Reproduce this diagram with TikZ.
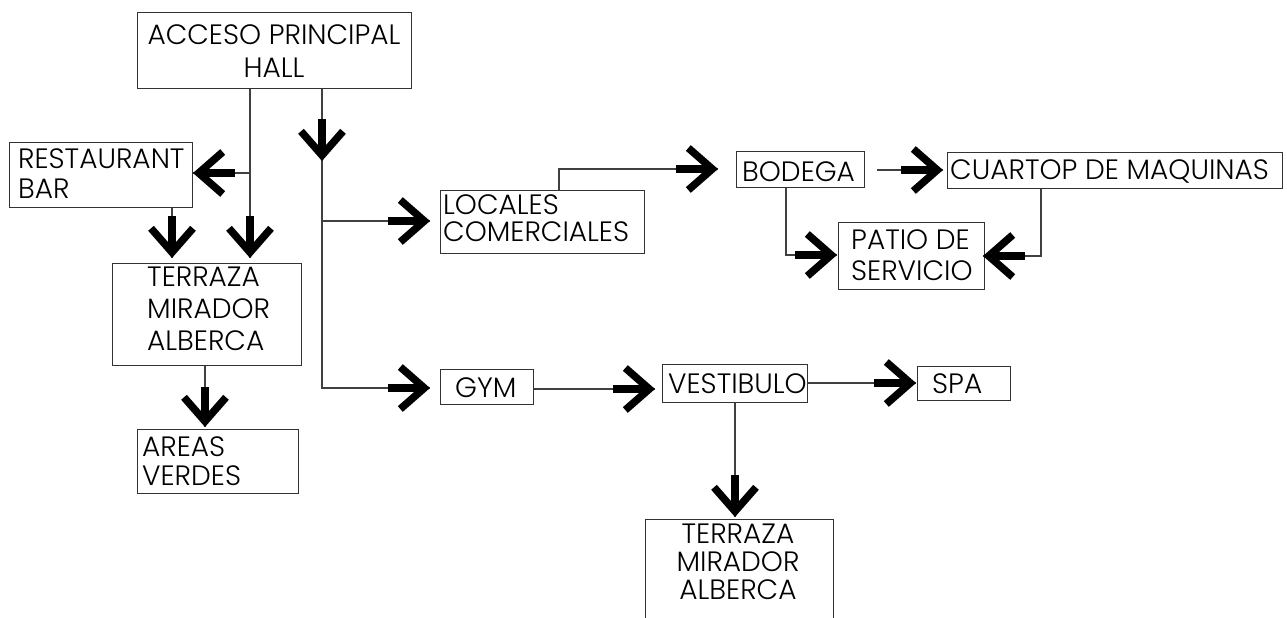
\documentclass[tikz,border=0pt]{standalone}
\usepackage{fontspec}
\setmainfont{Poppins Light}
\usetikzlibrary{arrows.meta,calc}
\begin{document}
\begin{tikzpicture}[x=1pt,y=-1pt,
  box/.style={draw=black!80, line width=1pt, inner sep=0pt, anchor=north west},
  lbl/.style={inner sep=0pt, anchor=north west, align=left, font=\fontsize{28}{31}\selectfont},
  clbl/.style={lbl, anchor=north, align=center},
  line/.style={draw=black!75, line width=1.1pt},
  fat/.style={draw=black, line width=8pt, -{Straight Barb[length=24pt 0 0,width=42pt 0 0,line width=7.5pt 0 0,sharp]}}
]
\clip (0,0) rectangle (1287,618);
\fill[white] (0,0) rectangle (1287,618);

% boxes
\node[box, minimum width=274, minimum height=76] (acc) at (137,12) {};
\node[box, minimum width=183, minimum height=65] (rest) at (9,142) {};
\node[box, minimum width=189, minimum height=102] (ter1) at (112,263) {};
\node[box, minimum width=161, minimum height=64] (areas) at (137,429) {};
\node[box, minimum width=204, minimum height=63] (loc) at (440,190) {};
\node[box, minimum width=128, minimum height=36] (bod) at (736,151) {};
\node[box, minimum width=335, minimum height=36] (cua) at (947,152) {};
\node[box, minimum width=146, minimum height=67] (pat) at (838,222) {};
\node[box, minimum width=93, minimum height=35] (gym) at (440,369) {};
\node[box, minimum width=145, minimum height=38] (ves) at (662,364) {};
\node[box, minimum width=93, minimum height=34] (spa) at (917,366) {};
\node[box, minimum width=188, minimum height=102] (ter2) at (645,519) {};

% texts
\node[clbl, font=\fontsize{28}{33}\selectfont] (acc-t) at (274,25) {ACCESO PRINCIPAL\\HALL};
\node[lbl, font=\fontsize{28}{30}\selectfont] (rest-t) at (18,149) {RESTAURANT\\BAR};
\node[lbl, font=\fontsize{28}{32}\selectfont] (ter1-t) at (147,267) {TERRAZA\\MIRADOR\\ALBERCA};
\node[lbl, font=\fontsize{28}{29}\selectfont] (areas-t) at (142,436) {AREAS\\VERDES};
\node[lbl, font=\fontsize{28}{27}\selectfont] (loc-t) at (443,195) {LOCALES\\COMERCIALES};
\node[lbl] (bod-t) at (742,162) {BODEGA};
\node[lbl] (cua-t) at (950,160) {CUARTOP DE MAQUINAS};
\node[lbl, font=\fontsize{28}{31}\selectfont] (pat-t) at (851,230) {PATIO DE\\SERVICIO};
\node[lbl] (gym-t) at (455,377) {GYM};
\node[lbl] (ves-t) at (668,373) {VESTIBULO};
\node[lbl] (spa-t) at (932,373) {SPA};
\node[clbl, font=\fontsize{28}{28}\selectfont] (ter2-t) at (738,524) {TERRAZA\\MIRADOR\\ALBERCA};

% connector points
\coordinate (j1) at (250,173);
\coordinate (t1) at (250,258);
\coordinate (t2) at (rest.east |- j1);
\coordinate (t3) at (172,258);
\coordinate (t4) at (205,427);
\coordinate (t5) at (322,161);
\coordinate (t6) at (430,221);
\coordinate (t7) at (430,388);
\coordinate (c8) at (559,169);
\coordinate (t8) at (718,169);
\coordinate (t9) at (943,170);
\coordinate (c10) at (786,255);
\coordinate (t10) at (837,255);
\coordinate (c11) at (1041,256);
\coordinate (t11) at (983,256);
\coordinate (t12) at (655,389);
\coordinate (t13) at (916,383);
\coordinate (t14) at (735,517);

% thin lines
\draw[line] (acc.south -| j1) -- (t1);
\draw[line] (j1) -- (t2);
\draw[line] (rest.south -| t3) -- (t3);
\draw[line] (ter1.south -| t4) -- (t4);
\draw[line] (acc.south -| t5) -- (t5);
\draw[line] (t5) |- (t7);
\draw[line] (t5 |- t6) -- (t6);
\draw[line] (loc.north -| c8) |- (t8);
\draw[line] ($(bod.east |- t9)+(12,0)$) -- (t9);
\draw[line] (bod.south -| c10) |- (t10);
\draw[line] (cua.south -| c11) |- (t11);
\draw[line] (gym.east |- t12) -- (t12);
\draw[line] (ves.east |- t13) -- (t13);
\draw[line] (ves.south -| t14) -- (t14);

% heavy arrow ends
\draw[fat] ($(t1)+(0,-42)$) -- (t1);
\draw[fat] ($(t2)+(42,0)$) -- (t2);
\draw[fat] ($(t3)+(0,-42)$) -- (t3);
\draw[fat] ($(t4)+(0,-40)$) -- (t4);
\draw[fat] ($(t5)+(0,-42)$) -- (t5);
\draw[fat] ($(t6)+(-42,0)$) -- (t6);
\draw[fat] ($(t7)+(-42,0)$) -- (t7);
\draw[fat] ($(t8)+(-42,0)$) -- (t8);
\draw[fat] ($(t9)+(-42,0)$) -- (t9);
\draw[fat] ($(t10)+(-42,0)$) -- (t10);
\draw[fat] ($(t11)+(42,0)$) -- (t11);
\draw[fat] ($(t12)+(-42,0)$) -- (t12);
\draw[fat] ($(t13)+(-42,0)$) -- (t13);
\draw[fat] ($(t14)+(0,-42)$) -- (t14);
\end{tikzpicture}
\end{document}
